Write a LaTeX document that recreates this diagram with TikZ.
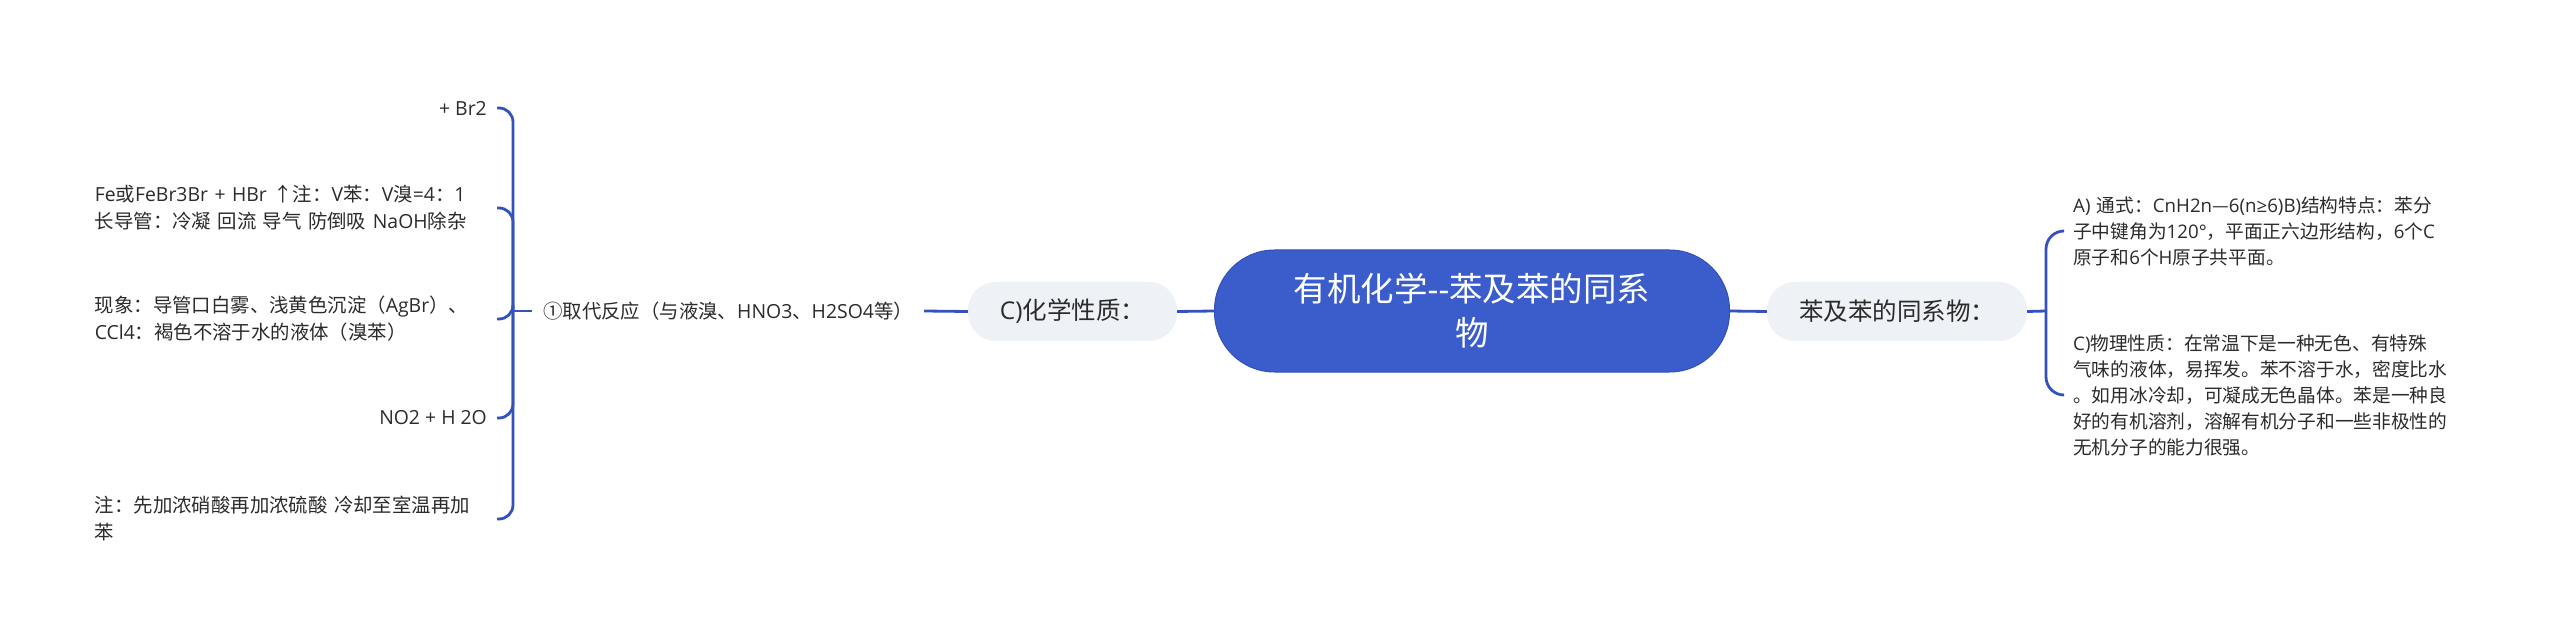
\documentclass[tikz,border=0pt]{standalone}
\usepackage{fontspec}
\setmainfont{Noto Sans CJK SC}
\newfontfamily\cjkf{Noto Sans CJK SC}
\newfontfamily\latf{Open Sans}
\newfontfamily\dejaf{DejaVu Sans}
\newXeTeXintercharclass\cjkcls
\newcount\cjkc
\def\setcjkrange#1#2{\cjkc=#1\relax
  \loop\XeTeXcharclass\cjkc=\cjkcls\relax
  \ifnum\cjkc<#2\relax\advance\cjkc by 1\relax\repeat}
\setcjkrange{"4E00}{"9FFF}
\setcjkrange{"3000}{"303F}
\setcjkrange{"FF00}{"FFEF}
\XeTeXcharclass"2460=\cjkcls
\XeTeXcharclass"2191=\cjkcls
\XeTeXcharclass"2014=\cjkcls
\XeTeXinterchartoks 0 \cjkcls = {\cjkf}
\XeTeXinterchartoks 4095 \cjkcls = {\cjkf}
\XeTeXinterchartoks \cjkcls 0 = {\latf}
\XeTeXinterchartoks 4095 0 = {\latf}
\XeTeXinterchartokenstate=1
\definecolor{mainblue}{HTML}{3B5DCC}
\definecolor{mainborder}{HTML}{3050BA}
\definecolor{linecol}{HTML}{3451BD}
\definecolor{subfill}{HTML}{EEF1F5}
\definecolor{txt}{HTML}{2B2B2B}
\begin{document}
\begin{tikzpicture}[x=1pt,y=-1pt,
  leaf/.style={font=\fontsize{19.4pt}{27pt}\selectfont, text=txt, inner xsep=10pt, inner ysep=4pt, align=left},
  leafR/.style={leaf, font=\fontsize{18.7pt}{26pt}\selectfont},
  wide/.style={text width=392pt},
  mainnode/.style={fill=mainblue, draw=mainborder, line width=1pt, rounded corners=60pt,
    minimum width=515pt, minimum height=122pt, text=white, align=center,
    font=\fontsize{33.5pt}{44pt}\selectfont},
  subnode/.style={fill=subfill, rounded corners=28pt, minimum height=59pt, inner xsep=10pt,
    text=txt, font=\fontsize{24.5pt}{30pt}\selectfont},
  conn/.style={draw=linecol, line width=2.8pt},
  brL/.style={conn, rounded corners=14pt},
  brR/.style={conn, rounded corners=18pt}
]
\fill[white] (0,0) rectangle (2560,636);
\path[use as bounding box] (0,0) rectangle (2560,636);

% central and second level
\node[mainnode] (main) at (1472,311) {有机化学-{}-苯及苯的同系\\物};
\node[subnode, minimum width=209pt] (chem) at (1072.5,311.5) {C)化学性质：};
\node[subnode, minimum width=260pt] (ben) at (1897,311.5) {苯及苯的同系物：};

% left branch
\node[leaf, anchor=west, inner xsep=11pt] (r1) at (532,311) {①取代反应（与液溴、HNO3、H2SO4等）};
\coordinate (jl) at (513,311);
\node[leaf, anchor=east] (l1) at (497,108) {+ Br2};
\node[leaf, wide, anchor=east] (l2) at (497,208) {Fe或FeBr3Br + HBr ↑注：V苯：V溴=4：1\\长导管：冷凝 回流 导气 防倒吸 NaOH除杂};
\node[leaf, wide, anchor=east] (l3) at (497,319) {现象：导管口白雾、浅黄色沉淀（AgBr）、\\CCl4：褐色不溶于水的液体（溴苯）};
\node[leaf, anchor=east] (l4) at (497,418) {NO2 + H 2O};
\node[leaf, wide, anchor=east] (l5) at (497,519) {注：先加浓硝酸再加浓硫酸 冷却至室温再加\\苯};

% right branch
\coordinate (jr) at (2046,311);
\node[leafR, wide, anchor=west] (ra) at (2063,231) {A) 通式：CnH2n—6(n{\dejaf ≥}6)B)结构特点：苯分\\子中键角为120°，平面正六边形结构，6个C\\原子和6个H原子共平面。};
\node[leafR, wide, anchor=west] (rc) at (2063,395) {C)物理性质：在常温下是一种无色、有特殊\\气味的液体，易挥发。苯不溶于水，密度比水\\。如用冰冷却，可凝成无色晶体。苯是一种良\\好的有机溶剂，溶解有机分子和一些非极性的\\无机分子的能力很强。};

% connectors
\draw[conn] (main.west) -- (chem.east);
\draw[conn] (chem.west) -- (r1.east);
\draw[conn] (r1.west) -- (jl);
\draw[brL] (jl) |- (l1.east);
\draw[brL] (jl) |- (l2.east);
\draw[brL] (jl) |- (l3.east);
\draw[brL] (jl) |- (l4.east);
\draw[brL] (jl) |- (l5.east);
\draw[conn] (main.east) -- (ben.west);
\draw[conn] (ben.east) -- (jr);
\draw[brR] (jr) |- (ra.west);
\draw[brR] (jr) |- (rc.west);
\end{tikzpicture}
\end{document}
